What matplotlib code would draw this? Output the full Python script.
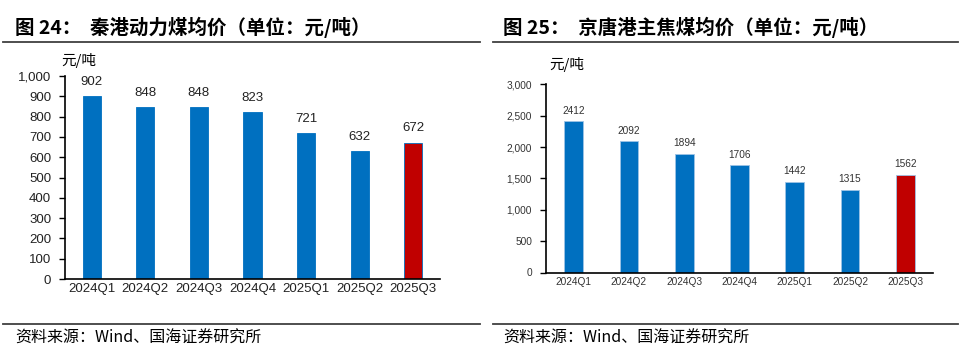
import matplotlib
matplotlib.use("Agg")
import matplotlib.pyplot as plt
from matplotlib.lines import Line2D

plt.rcParams['font.family'] = ['Liberation Sans', 'Noto Sans CJK SC', 'DejaVu Sans']

quarters = ['2024Q1', '2024Q2', '2024Q3', '2024Q4', '2025Q1', '2025Q2', '2025Q3']
qinhuangdao_price = [902, 848, 848, 823, 721, 632, 672]
jingtang_price = [2412, 2092, 1894, 1706, 1442, 1315, 1562]

left_title = '图 24：  秦港动力煤均价（单位：元/吨）'
right_title = '图 25：  京唐港主焦煤均价（单位：元/吨）'
source = '资料来源：Wind、国海证券研究所'

BLUE = '#0070C0'
RED = '#C00000'
W, H = 960, 358

fig = plt.figure(figsize=(W / 100, H / 100), dpi=100)


def px_axes(x0, x1, ytop, ybot):
    return fig.add_axes([x0 / W, 1 - ybot / H, (x1 - x0) / W, (ybot - ytop) / H])


def draw(ax, vals, ymax, step, fs_tick, fs_val, edge, gap, tcolor):
    colors = [BLUE] * (len(vals) - 1) + [RED]
    ax.bar(range(len(vals)), vals, width=0.34, color=colors,
           edgecolor=edge, linewidth=0.6)
    for i, v in enumerate(vals):
        ax.text(i, v + ymax * gap, str(v), ha='center', va='bottom',
                fontsize=fs_val, color=tcolor)
    ax.set_xlim(-0.5, len(vals) - 0.5)
    ax.set_ylim(0, ymax)
    ax.set_yticks(range(0, ymax + 1, step))
    ax.set_yticklabels([f'{t:,}' for t in range(0, ymax + 1, step)], fontsize=fs_tick)
    ax.set_xticks(range(len(vals)))
    ax.set_xticklabels(quarters, fontsize=fs_tick)
    ax.tick_params(axis='x', length=0, pad=3, labelcolor=tcolor)
    ax.tick_params(axis='y', direction='out', length=4, width=1, pad=6, labelcolor=tcolor)
    for s in ['top', 'right']:
        ax.spines[s].set_visible(False)
    for s in ['left', 'bottom']:
        ax.spines[s].set_color('black')
        ax.spines[s].set_linewidth(1.2)


ax1 = px_axes(65, 440, 76, 279)
draw(ax1, qinhuangdao_price, 1000, 100, 9.5, 9.5, BLUE, 0.04, '#222222')
ax2 = px_axes(546, 933, 84.3, 272.5)
draw(ax2, jingtang_price, 3000, 500, 7.3, 7.3, '#9DC3E6', 0.03, '#333333')

# titles, rules, source
fig.text(15 / W, 1 - 27 / H, left_title, fontsize=14, fontweight='bold',
         va='center', ha='left', family=['Noto Sans CJK SC'])
fig.text(503 / W, 1 - 27 / H, right_title, fontsize=14, fontweight='bold',
         va='center', ha='left', family=['Noto Sans CJK SC'])
fig.text(61 / W, 1 - 60 / H, '元/吨', fontsize=10.5, va='center', ha='left',
         family=['Noto Sans CJK SC'])
fig.text(549 / W, 1 - 64 / H, '元/吨', fontsize=10.5, va='center', ha='left',
         family=['Noto Sans CJK SC'])
fig.text(15 / W, 1 - 338 / H, source, fontsize=11.5, va='center', ha='left',
         family=['Noto Sans CJK SC', 'Liberation Sans'])
fig.text(503 / W, 1 - 338 / H, source, fontsize=11.5, va='center', ha='left',
         family=['Noto Sans CJK SC', 'Liberation Sans'])

for (x0, x1) in [(3, 480), (493, 958)]:
    for y in [42, 324]:
        fig.add_artist(Line2D([x0 / W, x1 / W], [1 - y / H, 1 - y / H],
                              color='#404040', linewidth=1.3))

fig.savefig('out.png', dpi=100)
